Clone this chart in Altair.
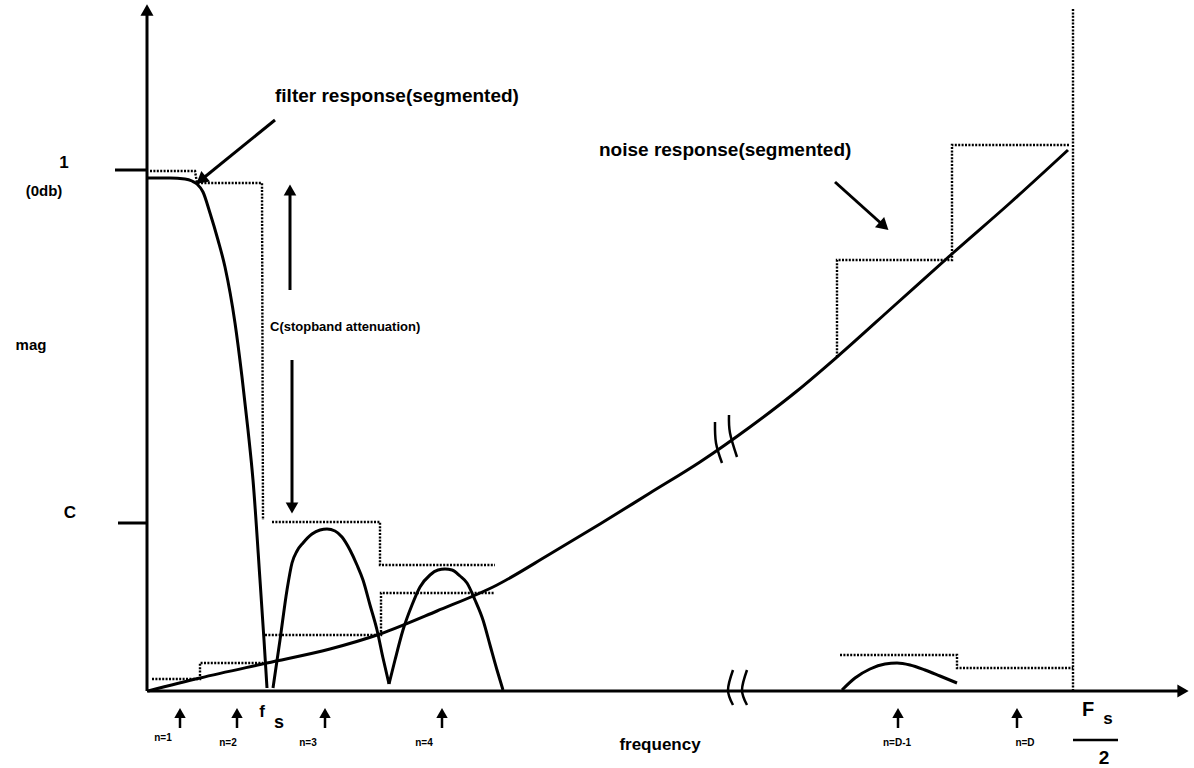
import altair as alt
import pandas as pd

# Frequency is in plot units: origin at 0, Fs/2 at 926.
# Magnitude is in plot units: 1 (0 dB) at 521, stopband level C at 168.
FS_HALF = 926
MAG_ONE = 521
MAG_C = 168

# ---- solid responses -------------------------------------------------------
filter_f = [0, 23, 38, 45, 50, 56, 63, 71, 78, 88, 95, 101, 106, 113, 117, 120]
filter_m = [513, 513, 512, 510, 507, 499, 478, 451, 424, 368, 314, 261, 211, 111, 51, 3]

lobe1_f = [126, 133, 140, 145, 150, 156, 165, 173, 180, 188, 195, 203, 210, 216, 223, 230, 236, 242]
lobe1_m = [3, 51, 101, 128, 140, 148, 157, 161, 162, 160, 154, 141, 126, 111, 86, 61, 33, 7]

lobe2_f = [242, 248, 256, 265, 273, 283, 291, 298, 305, 313, 320, 328, 336, 343, 350, 356]
lobe2_m = [7, 31, 61, 86, 104, 116, 121, 122, 121, 115, 108, 91, 71, 46, 21, 1]

lobeD_f = [695, 708, 723, 738, 750, 763, 778, 793, 810]
lobeD_m = [1, 13, 22, 27, 28, 26, 21, 15, 8]

noise_f = [1, 53, 120, 183, 233, 290, 350, 403, 453, 503, 553, 603, 650, 690, 748, 806, 863, 921]
noise_m = [0, 13, 28, 42, 57, 80, 106, 137, 167, 198, 229, 264, 300, 334, 386, 438, 488, 541]

# ---- segmented (dotted) approximations ------------------------------------
filt_seg_a_f = [3, 48, 50, 115, 116]
filt_seg_a_m = [520, 520, 508, 508, 171]
filt_seg_b_f = [125, 233, 233, 348]
filt_seg_b_m = [169, 169, 126, 126]

noise_seg_a_f = [5, 53, 53, 116]
noise_seg_a_m = [12, 12, 28, 28]
noise_seg_b_f = [118, 234, 234, 348]
noise_seg_b_m = [56, 56, 98, 98]
noise_seg_c_f = [690, 690, 805, 805, 923]
noise_seg_c_m = [334, 431, 431, 546, 546]
alias_seg_f = [693, 810, 810, 926]
alias_seg_m = [36, 36, 23, 23]
nyquist_f = [FS_HALF, FS_HALF]
nyquist_m = [0, 683]

# ---- axis break marks -------------------------------------------------------
break_marks = {
    "nb1": ([568, 569, 575], [269, 248, 228]),
    "nb2": ([582, 583, 590], [276, 258, 234]),
    "xb1": ([586, 581, 586], [21, 1, -14]),
    "xb2": ([600, 595, 600], [21, 1, -14]),
}

# ---- band index markers along the frequency axis ---------------------------
band_pos = [33, 90, 178, 295, 751, 870]
band_labels = ["n=1", "n=2", "n=3", "n=4", "n=D-1", "n=D"]
band_label_f = [16, 81, 161, 277, 750, 878]
band_label_m = [-47, -52, -52, -52, -52, -52]


def path(name, fs, ms):
    return pd.DataFrame({"f": fs, "m": ms, "part": name, "i": range(len(fs))})


X = alt.X("f:Q", scale=alt.Scale(domain=[-147, 1047], nice=False, zero=False), axis=None)
Y = alt.Y("m:Q", scale=alt.Scale(domain=[-77, 691], nice=False, zero=False), axis=None)

curves = pd.concat([
    path("filter", filter_f, filter_m),
    path("lobe1", lobe1_f, lobe1_m),
    path("lobe2", lobe2_f, lobe2_m),
    path("lobeD", lobeD_f, lobeD_m),
    path("noise", noise_f, noise_m),
])

frame = pd.concat([
    path("yaxis", [0, 0], [0, 681]),
    path("xaxis", [0, 1036], [0, 0]),
    path("tick1", [-32, 0], [MAG_ONE, MAG_ONE]),
    path("tickC", [-29, 0], [MAG_C, MAG_C]),
    path("filt_arrow", [128, 54], [571, 511]),
    path("noise_arrow", [688, 737], [509, 465]),
    path("c_up", [143, 143], [401, 500]),
    path("c_down", [145, 145], [331, 184]),
])

thin = pd.concat(
    [path(f"band{k}", [p, p], [-37, -21]) for k, p in enumerate(band_pos)]
    + [path("frac", [926, 971], [-49, -49])]
)

dotted = pd.concat([
    path("fa", filt_seg_a_f, filt_seg_a_m),
    path("fb", filt_seg_b_f, filt_seg_b_m),
    path("na", noise_seg_a_f, noise_seg_a_m),
    path("nb", noise_seg_b_f, noise_seg_b_m),
    path("nc", noise_seg_c_f, noise_seg_c_m),
    path("al", alias_seg_f, alias_seg_m),
    path("ny", nyquist_f, nyquist_m),
])

breaks = pd.concat([path(k, v[0], v[1]) for k, v in break_marks.items()])

heads = pd.DataFrame({
    "f": [0, 1036, 54, 737, 143, 145] + band_pos,
    "m": [681, 0, 511, 465, 501, 183] + [-22] * len(band_pos),
    "a": [0, 90, 231, 132, 0, 180] + [0] * len(band_pos),
    "s": [170, 170, 190, 190, 160, 160] + [130] * len(band_pos),
})

center_text = pd.DataFrame({
    "f": [-83, -103, -116, -77, 513, 115, 132, 941, 961, 957] + band_label_f,
    "m": [528, 500, 346, 178, -54, -21, -32, -19, -28, -67] + band_label_m,
    "t": ["1", "(0db)", "mag", "C", "frequency", "f", "s", "F", "s", "2"] + band_labels,
    "s": [17, 15, 15, 17, 17, 17, 18, 20, 17, 19] + [10] * len(band_labels),
})

left_text = pd.DataFrame({
    "f": [128, 452, 123],
    "m": [595, 541, 364],
    "t": ["filter response(segmented)", "noise response(segmented)", "C(stopband attenuation)"],
    "s": [19, 19, 13],
})

enc = dict(x=X, y=Y)

layers = [
    alt.Chart(dotted).mark_line(color="black", strokeWidth=2.4, strokeDash=[2, 1.4])
    .encode(**enc, detail="part:N", order="i:Q"),
    alt.Chart(curves).mark_line(color="black", strokeWidth=3, interpolate="monotone")
    .encode(**enc, detail="part:N", order="i:Q"),
    alt.Chart(frame).mark_line(color="black", strokeWidth=3)
    .encode(**enc, detail="part:N", order="i:Q"),
    alt.Chart(thin).mark_line(color="black", strokeWidth=2.5)
    .encode(**enc, detail="part:N", order="i:Q"),
    alt.Chart(breaks).mark_line(color="black", strokeWidth=2.5, interpolate="cardinal")
    .encode(**enc, detail="part:N", order="i:Q"),
    alt.Chart(heads).mark_point(shape="triangle-up", filled=True, color="black", opacity=1)
    .encode(**enc, angle=alt.Angle("a:Q", scale=None), size=alt.Size("s:Q", scale=None)),
    alt.Chart(center_text).mark_text(font="Liberation Sans", fontWeight="bold",
                                     align="center", baseline="middle", color="black")
    .encode(**enc, text="t:N", size=alt.Size("s:Q", scale=None)),
    alt.Chart(left_text).mark_text(font="Liberation Sans", fontWeight="bold",
                                   align="left", baseline="middle", color="black")
    .encode(**enc, text="t:N", size=alt.Size("s:Q", scale=None)),
]

chart = (
    alt.layer(*layers)
    .properties(width=1194, height=768, padding=0,
                autosize=alt.AutoSizeParams(type="none"), background="white")
    .configure_view(stroke=None)
)

chart.save("out.html", embed_options={"renderer": "svg", "actions": False})
